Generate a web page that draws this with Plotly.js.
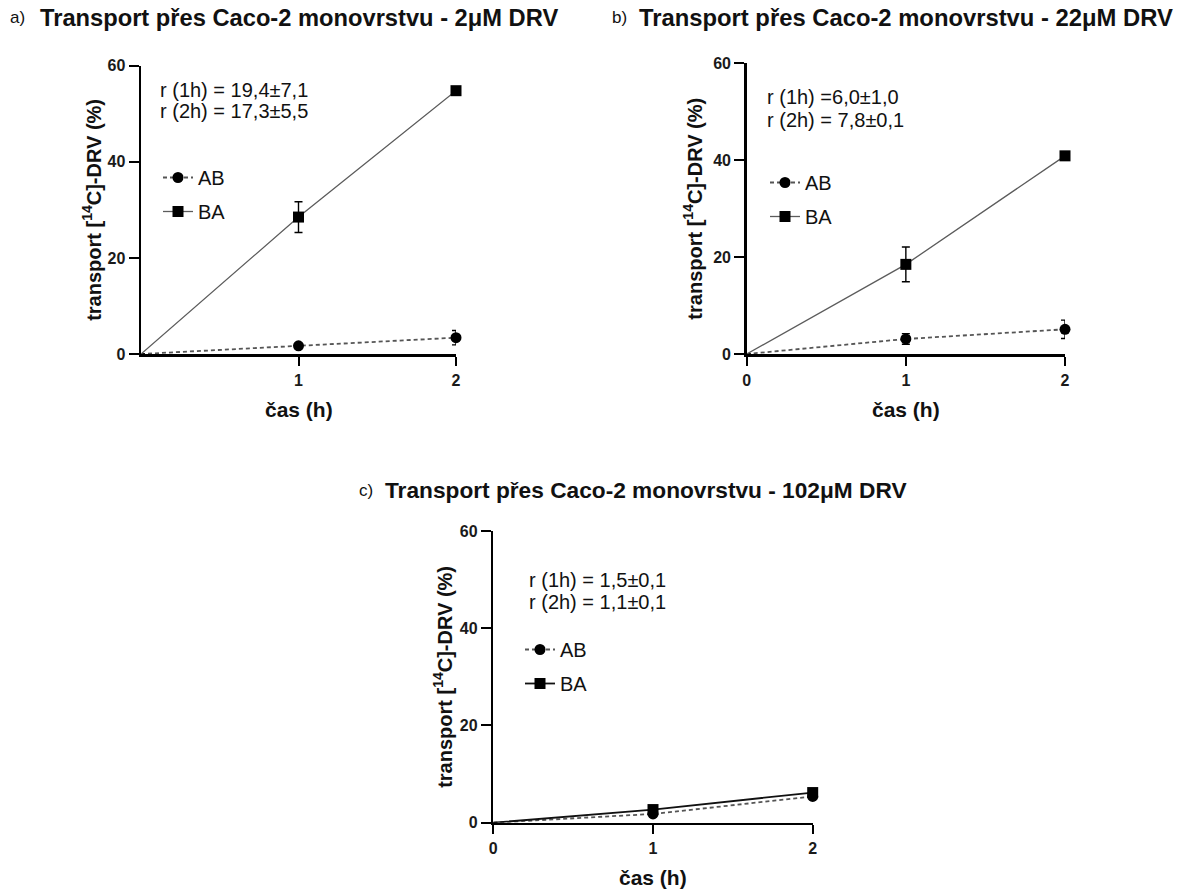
<!DOCTYPE html>
<html>
<head>
<meta charset="utf-8">
<script src="https://cdn.plot.ly/plotly-3.0.1.min.js"></script>
<style>
  html, body { margin: 0; padding: 0; background: #fff; }
  #chart { width: 1183px; height: 889px; }
</style>
</head>
<body>
<div id="chart"></div>
<script>
// Sampling times (h)
const hours = [0, 1, 2];

// Panel a) 2 µM DRV — mean transport (%) and SD
const abA = [0, 1.7, 3.4];
const abAErr = [0, 0.4, 1.5];
const baA = [0, 28.5, 54.8];
const baAErr = [0, 3.2, 0.8];

// Panel b) 22 µM DRV
const abB = [0, 3.1, 5.1];
const abBErr = [0, 1.1, 1.9];
const baB = [0, 18.5, 40.9];
const baBErr = [0, 3.6, 0.8];

// Panel c) 102 µM DRV
const abC = [0, 1.8, 5.4];
const abCErr = [0, 0.5, 0.5];
const baC = [0, 2.7, 6.2];
const baCErr = [0, 0.6, 0.6];

// Efflux ratios
const ratesA = ["r (1h) = 19,4±7,1", "r (2h) = 17,3±5,5"];
const ratesB = ["r (1h) =6,0±1,0", "r (2h) = 7,8±0,1"];
const ratesC = ["r (1h) = 1,5±0,1", "r (2h) = 1,1±0,1"];

const seriesNames = ["AB", "BA"];
const panelLetters = ["a)", "b)", "c)"];
const panelTitles = [
  "Transport přes Caco-2 monovrstvu - 2μM DRV",
  "Transport přes Caco-2 monovrstvu - 22μM DRV",
  "Transport přes Caco-2 monovrstvu - 102μM DRV"
];
const yTicks = [0, 20, 40, 60];
const xTicksA = [1, 2];
const xTicksBC = [0, 1, 2];
const yTitle = "transport [<sup>14</sup>C]-DRV (%)";
const xTitle = "čas (h)";

// ---- layout helpers (pixel -> paper) ----
const W = 1183, H = 889;
const px = v => v / W;
const py = v => 1 - v / H;

const FONT = "Liberation Sans, Arial, Helvetica, sans-serif";

// Plot-area boxes in pixels: left, right, top, bottom
const boxes = [
  { l: 141, r: 456, t: 65.7, b: 354 },
  { l: 746.7, r: 1065, t: 63.3, b: 354 },
  { l: 493.3, r: 812.7, t: 531, b: 822.7 }
];

const panels = [
  { ab: abA, abErr: abAErr, ba: baA, baErr: baAErr, rates: ratesA, xt: xTicksA, baColor: "#5c5c5c", baWidth: 1.3 },
  { ab: abB, abErr: abBErr, ba: baB, baErr: baBErr, rates: ratesB, xt: xTicksBC, baColor: "#5c5c5c", baWidth: 1.3 },
  { ab: abC, abErr: abCErr, ba: baC, baErr: baCErr, rates: ratesC, xt: xTicksBC, baColor: "#111111", baWidth: 1.8 }
];

// Markers are shown for the measured times only; the line still starts at the origin
const measured = hours.map((t, k) => k).filter(k => hours[k] !== 0);

const traces = [];
const layout = {
  width: W, height: H,
  margin: { l: 0, r: 0, t: 0, b: 0 },
  paper_bgcolor: "#ffffff",
  plot_bgcolor: "rgba(0,0,0,0)",
  font: { family: FONT, color: "#111" },
  showlegend: true,
  annotations: []
};

panels.forEach((p, i) => {
  const n = i === 0 ? "" : String(i + 1);
  const xa = "x" + n, ya = "y" + n;
  const legendId = i === 0 ? "legend" : "legend" + (i + 1);
  const bx = boxes[i];

  const common = {
    type: "scatter", mode: "lines+markers",
    xaxis: xa, yaxis: ya, legend: legendId,
    cliponaxis: false,
    selectedpoints: measured,
    selected: { marker: { opacity: 1 } },
    unselected: { marker: { opacity: 0 } }
  };

  traces.push(Object.assign({}, common, {
    x: hours, y: p.ab, name: seriesNames[0], legendgroup: "ab" + i,
    line: { color: "#555555", width: 1.8, dash: "4px,3px" },
    marker: { symbol: "circle", color: "#000", opacity: 1, size: 11, line: { width: 0 } },
    error_y: { type: "data", array: p.abErr, visible: true, color: "#000", thickness: 1.4, width: 4 }
  }));
  traces.push(Object.assign({}, common, {
    x: hours, y: p.ba, name: seriesNames[1], legendgroup: "ba" + i,
    line: { color: p.baColor, width: p.baWidth },
    marker: { symbol: "square", color: "#000", opacity: 1, size: 11, line: { width: 0 } },
    error_y: { type: "data", array: p.baErr, visible: true, color: "#000", thickness: 1.4, width: 4 }
  }));

  layout["xaxis" + n] = {
    domain: [px(bx.l), px(bx.r)],
    anchor: ya,
    range: [0, 2],
    tickmode: "array", tickvals: p.xt,
    ticks: "outside", ticklen: 9, tickwidth: 2, tickcolor: "#000",
    showline: true, linewidth: 2.5, linecolor: "#000",
    showgrid: false, zeroline: false,
    ticklabelstandoff: 1,
    tickfont: { family: FONT, size: 16, color: "#1a1a1a", weight: "bold" },
    fixedrange: true
  };
  layout["yaxis" + n] = {
    domain: [py(bx.b), py(bx.t)],
    anchor: xa,
    range: [0, 60],
    tickmode: "array", tickvals: yTicks,
    ticks: "outside", ticklen: 10, tickwidth: 2, tickcolor: "#000",
    showline: true, linewidth: 2.5, linecolor: "#000",
    showgrid: false, zeroline: false,
    tickfont: { family: FONT, size: 16, color: "#1a1a1a", weight: "bold" },
    fixedrange: true
  };
});

// Legends, one per panel
const legendPos = [
  { x: 158, y: 158 },
  { x: 765, y: 163 },
  { x: 520, y: 630 }
];
legendPos.forEach((lp, i) => {
  const id = i === 0 ? "legend" : "legend" + (i + 1);
  layout[id] = {
    x: px(lp.x), y: py(lp.y), xanchor: "left", yanchor: "top",
    bgcolor: "rgba(0,0,0,0)", borderwidth: 0,
    font: { family: FONT, size: 20, color: "#111" },
    itemwidth: 30,
    traceorder: "grouped", tracegroupgap: 5
  };
});

// Titles, axis titles and ratio labels
const titlePos = [
  { lx: 8, tx: 38, y: 18, size: 23.7 },
  { lx: 610, tx: 637, y: 18, size: 23.8 },
  { lx: 357, tx: 383, y: 490, size: 22.7 }
];
const ratePos = [
  { x: 158, y1: 90, y2: 111 },
  { x: 765, y1: 97, y2: 120 },
  { x: 527, y1: 580, y2: 602 }
];
const yTitleX = [92, 693, 443];
const xTitleY = [409, 409, 877];

panels.forEach((p, i) => {
  const bx = boxes[i];
  const tp = titlePos[i];
  const ann = layout.annotations;
  ann.push({
    xref: "paper", yref: "paper", x: px(tp.lx), y: py(tp.y),
    xanchor: "left", yanchor: "middle", showarrow: false,
    text: panelLetters[i], font: { family: FONT, size: 17, color: "#111" }
  });
  ann.push({
    xref: "paper", yref: "paper", x: px(tp.tx), y: py(tp.y),
    xanchor: "left", yanchor: "middle", showarrow: false,
    text: "<b>" + panelTitles[i] + "</b>", font: { family: FONT, size: tp.size, color: "#111" }
  });
  ann.push({
    xref: "paper", yref: "paper", x: px(yTitleX[i]), y: py((bx.t + bx.b) / 2),
    xanchor: "center", yanchor: "middle", showarrow: false, textangle: -90,
    text: "<b>" + yTitle + "</b>", font: { family: FONT, size: 20, color: "#111" }
  });
  ann.push({
    xref: "paper", yref: "paper", x: px((bx.l + bx.r) / 2), y: py(xTitleY[i]),
    xanchor: "center", yanchor: "middle", showarrow: false,
    text: "<b>" + xTitle + "</b>", font: { family: FONT, size: 21, color: "#111" }
  });
  const rp = ratePos[i];
  [rp.y1, rp.y2].forEach((yy, k) => {
    ann.push({
      xref: "paper", yref: "paper", x: px(rp.x), y: py(yy),
      xanchor: "left", yanchor: "middle", showarrow: false,
      text: p.rates[k], font: { family: FONT, size: 20, color: "#111" }
    });
  });
});

Plotly.newPlot("chart", traces, layout, { displayModeBar: false, staticPlot: true });
</script>
</body>
</html>
